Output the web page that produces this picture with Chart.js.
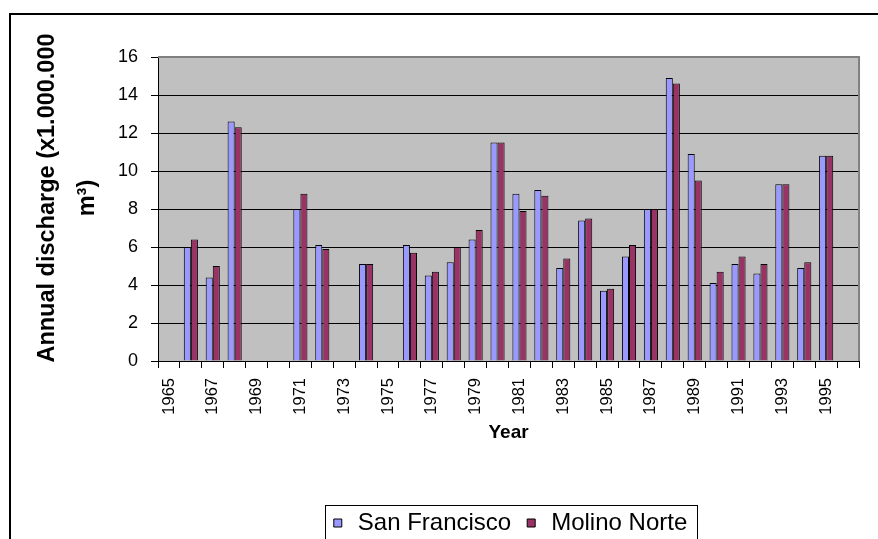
<!DOCTYPE html>
<html>
<head>
<meta charset="utf-8">
<script src="https://cdn.jsdelivr.net/npm/chart.js@4.4.1/dist/chart.umd.min.js"></script>
<style>
  html, body { margin: 0; padding: 0; background: #ffffff; }
  canvas { display: block; }
</style>
</head>
<body>
<canvas id="chart" width="878" height="539"></canvas>
<script>
// Annual discharge per hydrological year, in millions of cubic metres
const years = ['1965', '1966', '1967', '1968', '1969', '1970', '1971', '1972',
               '1973', '1974', '1975', '1976', '1977', '1978', '1979', '1980',
               '1981', '1982', '1983', '1984', '1985', '1986', '1987', '1988',
               '1989', '1990', '1991', '1992', '1993', '1994', '1995', '1996'];

const sanFrancisco = [null, 6.0, 4.4, 12.6, null, null, 8.0, 6.1,
                      null, 5.1, null, 6.1, 4.5, 5.2, 6.4, 11.5,
                      8.8, 9.0, 4.9, 7.4, 3.7, 5.5, 8.0, 14.9,
                      10.9, 4.1, 5.1, 4.6, 9.3, 4.9, 10.8, null];

const molinoNorte = [null, 6.4, 5.0, 12.3, null, null, 8.8, 5.9,
                     null, 5.1, null, 5.7, 4.7, 6.0, 6.9, 11.5,
                     7.9, 8.7, 5.4, 7.5, 3.8, 6.1, 8.0, 14.6,
                     9.5, 4.7, 5.5, 5.1, 9.3, 5.2, 10.8, null];

const yTickValues = [0, 2, 4, 6, 8, 10, 12, 14, 16];

const FONT = "'Liberation Sans', Arial, sans-serif";

Chart.defaults.font.family = FONT;
Chart.defaults.font.size = 17;
Chart.defaults.color = '#000000';

// Grey plot background, plot border, outer frame and legend box
const chartDecor = {
  id: 'chartDecor',
  afterLayout(chart) {
    // lift the value-axis title slightly above the plot's vertical centre
    const y = chart.scales.y;
    if (y && !y.__titleShifted) {
      const draw = y.drawTitle.bind(y);
      y.drawTitle = function () {
        const ctx = this.ctx;
        ctx.save();
        ctx.translate(0, -11);
        draw();
        ctx.restore();
      };
      y.__titleShifted = true;
    }
  },
  beforeDraw(chart) {
    const { ctx, chartArea: a } = chart;
    ctx.save();
    ctx.fillStyle = '#C0C0C0';
    ctx.fillRect(a.left, a.top, a.right - a.left, a.bottom - a.top);
    ctx.restore();
  },
  afterDraw(chart) {
    const { ctx, chartArea: a, legend } = chart;
    ctx.save();
    // plot border (top and right)
    ctx.strokeStyle = '#808080';
    ctx.lineWidth = 2;
    ctx.beginPath();
    ctx.moveTo(a.left, a.top);
    ctx.lineTo(a.right, a.top);
    ctx.lineTo(a.right, a.bottom);
    ctx.stroke();

    // outer chart frame
    ctx.strokeStyle = '#000000';
    ctx.lineWidth = 2;
    ctx.strokeRect(10, 14, 940, 600);

    // legend frame
    if (legend && legend.legendHitBoxes && legend.legendHitBoxes.length) {
      const boxes = legend.legendHitBoxes;
      const left = Math.min(...boxes.map(b => b.left)) + 4 - 9;
      const right = Math.max(...boxes.map(b => b.left + b.width)) + 10;
      const cy = boxes[0].top + boxes[0].height / 2;
      ctx.lineWidth = 1;
      ctx.strokeRect(Math.round(left) + 0.5, Math.round(cy - 18) + 0.5, Math.round(right - left), 60);
    }
    ctx.restore();
  }
};

new Chart(document.getElementById('chart'), {
  type: 'bar',
  data: {
    labels: years,
    datasets: [
      {
        label: 'San Francisco',
        data: sanFrancisco,
        backgroundColor: '#9999FF',
        borderColor: '#000000',
        borderWidth: 1
      },
      {
        label: 'Molino Norte',
        data: molinoNorte,
        backgroundColor: '#993366',
        borderColor: '#000000',
        borderWidth: 1
      }
    ]
  },
  options: {
    responsive: false,
    animation: false,
    devicePixelRatio: 1,
    datasets: {
      bar: { categoryPercentage: 0.645, barPercentage: 1.0 }
    },
    layout: { padding: { left: 10, top: 57, right: 8, bottom: -6 } },
    plugins: {
      tooltip: { enabled: false },
      legend: {
        position: 'bottom',
        fullSize: false,
        labels: {
          color: '#000000',
          font: { family: FONT, size: 24 },
          usePointStyle: true,
          pointStyle: 'rect',
          boxWidth: 16,
          boxHeight: 8,
          padding: 12
        }
      }
    },
    scales: {
      x: {
        offset: true,
        afterFit(scale) { scale.height = 138; },
        grid: {
          offset: true,
          drawOnChartArea: false,
          drawTicks: true,
          tickLength: 7,
          tickColor: '#000000',
          tickWidth: 1
        },
        border: { display: true, color: '#000000', width: 1 },
        ticks: {
          autoSkip: false,
          minRotation: 90,
          maxRotation: 90,
          padding: 10,
          color: '#000000',
          font: { family: FONT, size: 16.5 },
          callback(value, index) { return index % 2 === 0 ? years[index] : ''; }
        },
        title: {
          display: true,
          text: 'Year',
          color: '#000000',
          font: { family: FONT, size: 19, weight: 'bold' },
          padding: { top: 4, bottom: 54.6 }
        }
      },
      y: {
        min: 0,
        max: 16,
        afterFit(scale) { scale.width = 148; },
        afterBuildTicks(axis) { axis.ticks = yTickValues.map(v => ({ value: v })); },
        grid: {
          color(ctx) { return ctx.tick && ctx.tick.value === 16 ? 'rgba(0,0,0,0)' : '#000000'; },
          lineWidth: 1,
          drawTicks: true,
          tickLength: 7,
          tickColor: '#000000'
        },
        border: { display: true, color: '#000000', width: 1 },
        ticks: {
          padding: 13,
          color: '#000000',
          font: { family: FONT, size: 18 }
        },
        title: {
          display: true,
          text: ['Annual discharge (x1.000.000', 'm³)'],
          color: '#000000',
          font: { family: FONT, size: 23.5, weight: 'bold', lineHeight: 1.7 },
          padding: { top: 18, bottom: 0 }
        }
      }
    }
  },
  plugins: [chartDecor]
});
</script>
</body>
</html>
